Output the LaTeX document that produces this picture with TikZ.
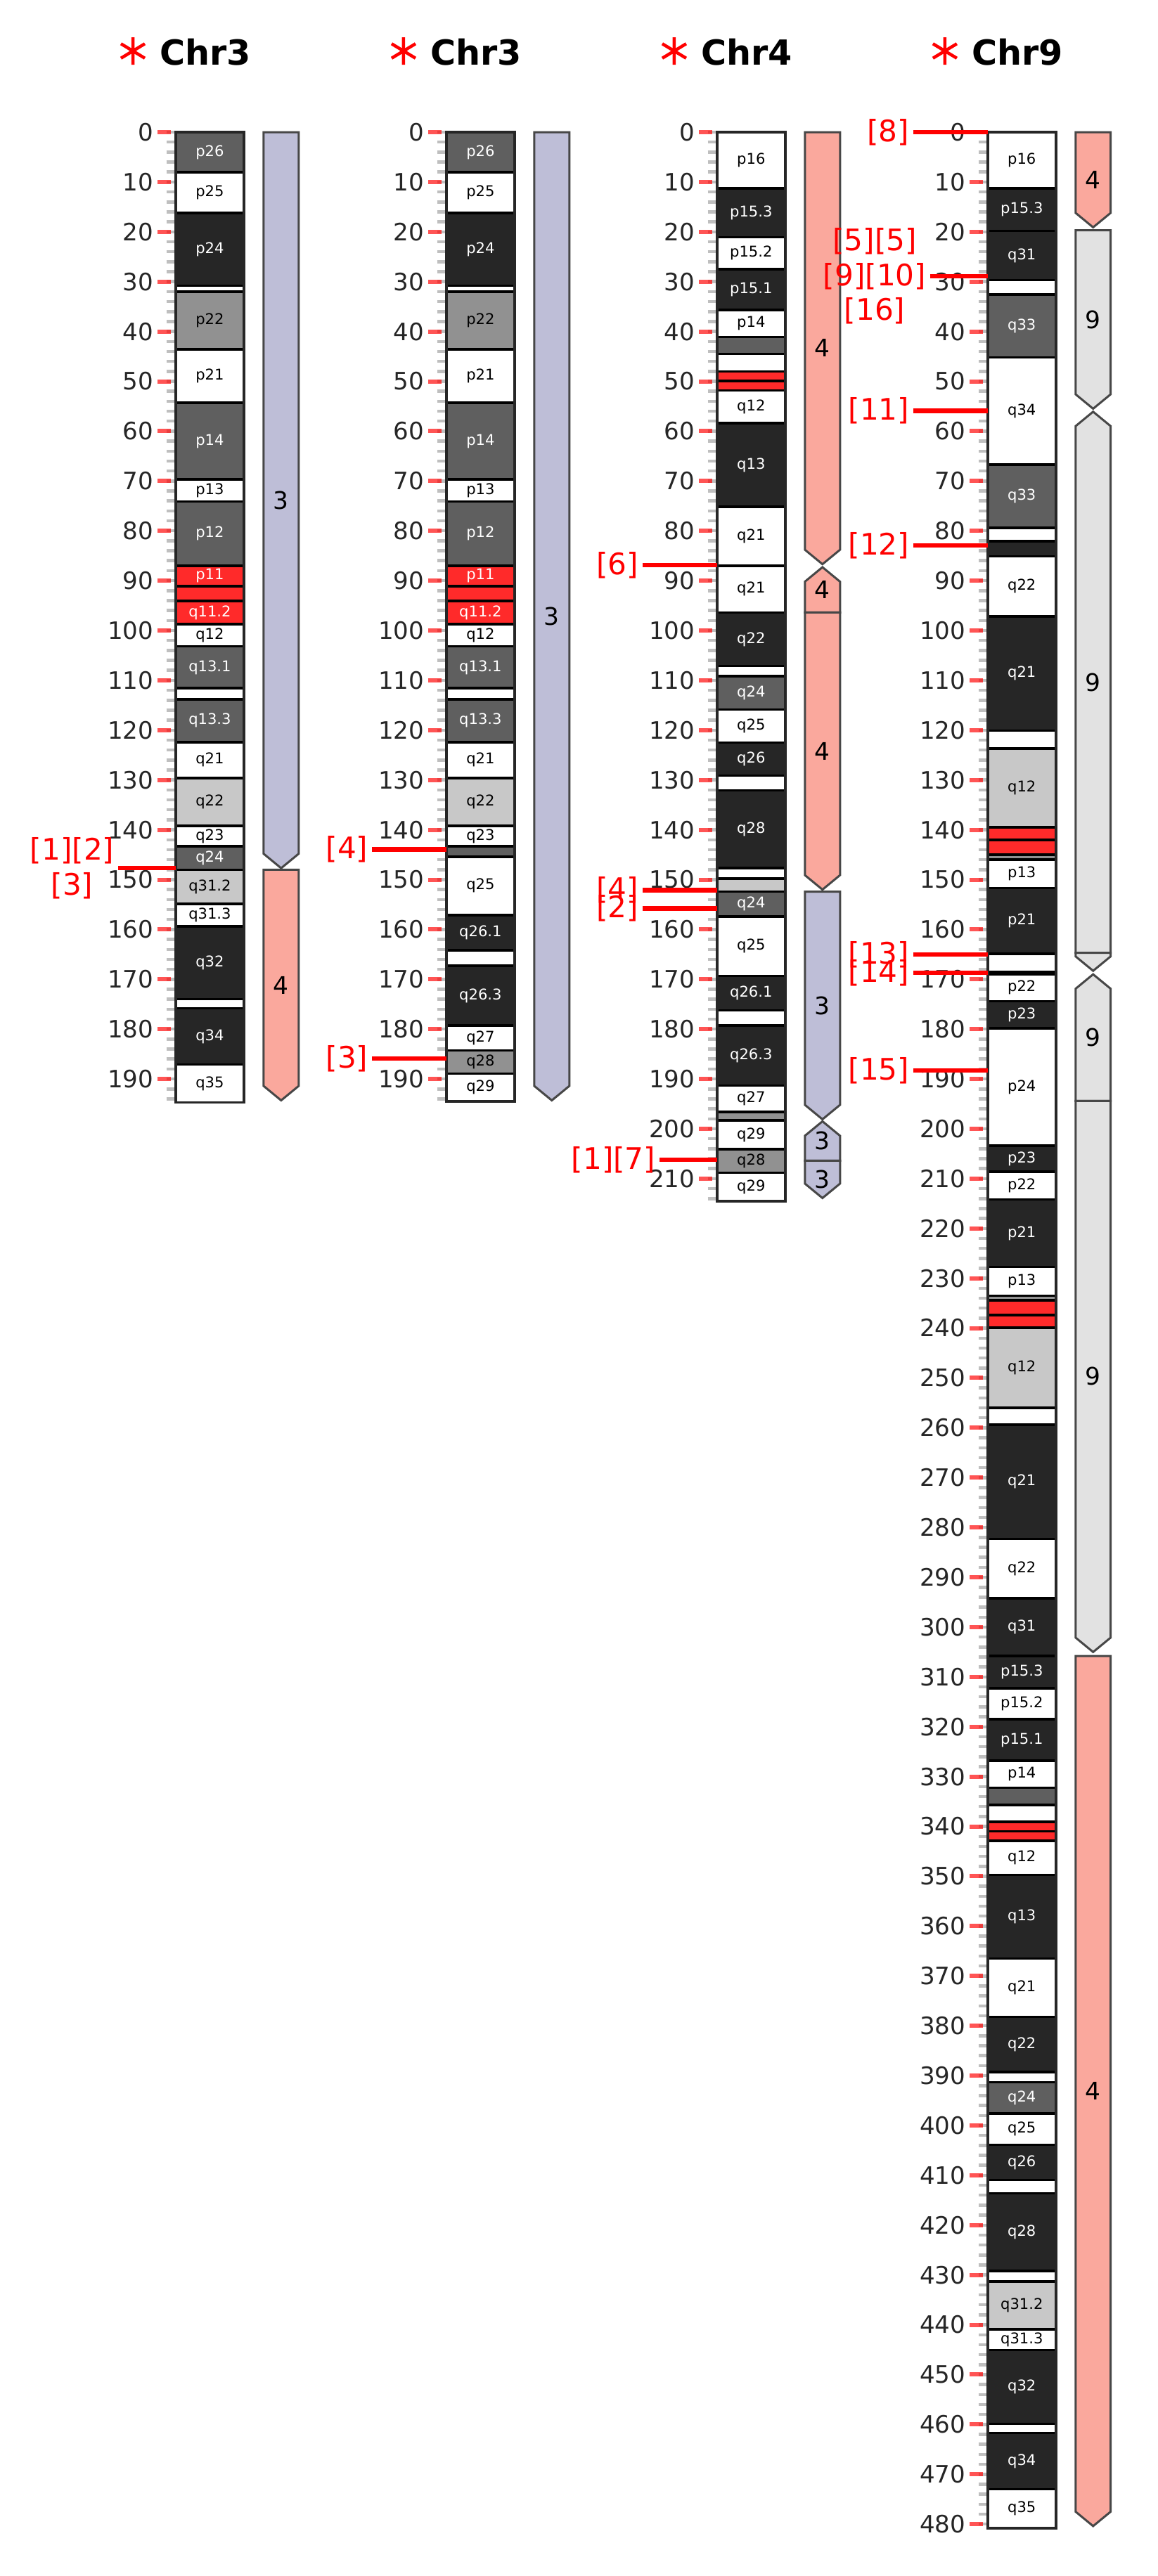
\documentclass[tikz,border=0pt]{standalone}
\usepackage{fontspec}
\setmainfont{DejaVu Sans}
\usepackage{xcolor}
\usepackage{tikz}
\definecolor{cw}{RGB}{255,255,255}
\definecolor{cl}{RGB}{200,200,200}
\definecolor{cm}{RGB}{145,145,145}
\definecolor{cg}{RGB}{95,95,95}
\definecolor{cb}{RGB}{38,38,38}
\definecolor{cr}{RGB}{255,42,42}
\colorlet{tw}{black}
\colorlet{tl}{black}
\colorlet{tm}{black}
\colorlet{tg}{white}
\colorlet{tb}{white}
\colorlet{tr}{white}
\definecolor{segthree}{RGB}{190,190,215}
\definecolor{segfour}{RGB}{250,168,157}
\definecolor{segnine}{RGB}{226,226,226}
\definecolor{axisgrey}{RGB}{38,38,38}
\newcommand\tipd{2.9}
% flat top, pointed bottom
\newcommand\segdown[5]{%
  \draw[segbar,fill=#4] (125,#2) -- (175,#2) -- (175,#3-\tipd) -- (150,#3) -- (125,#3-\tipd) -- cycle;
  \node[seglab] (#1) at (150,{(#2+#3)/2}) {#5};}
% pointed top, flat bottom
\newcommand\segup[5]{%
  \draw[segbar,fill=#4] (150,#2) -- (175,#2+\tipd) -- (175,#3) -- (125,#3) -- (125,#2+\tipd) -- cycle;
  \node[seglab] (#1) at (150,{(#2+#3)/2}) {#5};}

\begin{document}
\begin{tikzpicture}[x=0.01cm,y=-0.0709cm,
  band/.style={draw=black,line width=0.035cm,fill=c#1},
  bandlab/.style={text=t#1,font=\fontsize{6}{7}\selectfont,inner sep=0pt},
  chrbox/.style={draw=cb,line width=0.035cm},
  minortick/.style={draw=black!25,line width=0.045cm},
  majortick/.style={draw=red,draw opacity=0.67,line width=0.06cm},
  ticklab/.style={anchor=east,text=axisgrey,font=\fontsize{9.7}{11}\selectfont,inner sep=0pt},
  segbar/.style={draw=black!72,line width=0.03cm},
  seglab/.style={font=\fontsize{9.8}{11}\selectfont,inner sep=0pt},
  marklab/.style={anchor=east,text=red,align=center,font=\fontsize{12}{14}\selectfont,inner xsep=0.05cm,inner ysep=0pt},
  markline/.style={draw=red,line width=0.065cm},
  titlelab/.style={anchor=base west,font=\fontsize{14}{16}\selectfont\bfseries,inner sep=0pt},
  starmark/.style={draw=red,line width=0.045cm}]
\useasboundingbox (0,-26.52) rectangle (1648,490.42);

% Chr3
\begin{scope}[xshift=2.5cm]
\node[titlelab] (h1) at (-23.5,-13.54) {Chr3};
\draw[starmark] (-61,-16.29) +(0,-2.75) -- +(0,2.75) +(-17,-1.45) -- +(17,1.45) +(-17,1.45) -- +(17,-1.45);
\foreach \v in {0,2,...,194} \draw[minortick] (-13.3,\v) -- (-1,\v);
\foreach \v in {0,10,...,190} {\draw[majortick] (-26,\v) -- (-6.7,\v); \node[ticklab] (a1-\v) at (-31,\v) {\v};}
\foreach \bs/\be/\ty/\lb [count=\i] in {0/8.05/g/p26, 8.05/16.2/w/p25, 16.2/30.8/b/p24, 30.8/32/w/{},
  32/43.6/m/p22, 43.6/54.3/w/p21, 54.3/69.7/g/p14, 69.7/74.1/w/p13, 74.1/87/g/p12, 87/91.1/r/p11,
  91.1/94.1/r/{}, 94.1/98.7/r/q11.2, 98.7/103.2/w/q12, 103.2/111.6/g/q13.1, 111.6/113.8/w/{},
  113.8/122.4/g/q13.3, 122.4/129.6/w/q21, 129.6/139.2/l/q22, 139.2/143.3/w/q23, 143.3/148/g/q24,
  148/154.9/l/q31.2, 154.9/159.4/w/q31.3, 159.4/174/b/q32, 174/175.8/w/{}, 175.8/187.1/b/q34,
  187.1/194.7/w/q35}
  {\draw[band=\ty] (0,\bs) rectangle (97,\be); \node[bandlab=\ty] (a1-b\i) at (48.5,{(\bs+\be)/2}) {\lb};}
\draw[chrbox] (0,0) rectangle (97,194.7);
\segdown{s1a}{0}{147.7}{segthree}{3}
\segdown{s1b}{148}{194.3}{segfour}{4}
\node[marklab] (m1) at (-82,147.7) {[1][2]\\{}[3]};
\coordinate (m1e) at (0,147.7);
\draw[markline] (m1.east) -- (m1e);
\end{scope}

% Chr3, second
\begin{scope}[xshift=6.35cm]
\node[titlelab] (h2) at (-23.5,-13.54) {Chr3};
\draw[starmark] (-61,-16.29) +(0,-2.75) -- +(0,2.75) +(-17,-1.45) -- +(17,1.45) +(-17,1.45) -- +(17,-1.45);
\foreach \v in {0,2,...,194} \draw[minortick] (-13.3,\v) -- (-1,\v);
\foreach \v in {0,10,...,190} {\draw[majortick] (-26,\v) -- (-6.7,\v); \node[ticklab] (a2-\v) at (-31,\v) {\v};}
\foreach \bs/\be/\ty/\lb [count=\i] in {0/8.05/g/p26, 8.05/16.2/w/p25, 16.2/30.8/b/p24, 30.8/32/w/{},
  32/43.6/m/p22, 43.6/54.3/w/p21, 54.3/69.7/g/p14, 69.7/74.1/w/p13, 74.1/87/g/p12, 87/91.1/r/p11,
  91.1/94.1/r/{}, 94.1/98.7/r/q11.2, 98.7/103.2/w/q12, 103.2/111.6/g/q13.1, 111.6/113.8/w/{},
  113.8/122.4/g/q13.3, 122.4/129.6/w/q21, 129.6/139.2/l/q22, 139.2/143.3/w/q23, 143.3/145.4/g/{},
  145.4/157.1/w/q25, 157.1/164.2/b/q26.1, 164.2/167.3/w/{}, 167.3/179.3/b/q26.3, 179.3/184.3/w/q27,
  184.3/188.9/m/q28, 188.9/194.5/w/q29}
  {\draw[band=\ty] (0,\bs) rectangle (97,\be); \node[bandlab=\ty] (a2-b\i) at (48.5,{(\bs+\be)/2}) {\lb};}
\draw[chrbox] (0,0) rectangle (97,194.5);
\segdown{s2a}{0}{194.3}{segthree}{3}
\node[marklab] (m2) at (-106,143.9) {[4]};
\coordinate (m2e) at (0,143.9);
\draw[markline] (m2.east) -- (m2e);
\node[marklab] (m3) at (-106,185.9) {[3]};
\coordinate (m3e) at (0,185.9);
\draw[markline] (m3.east) -- (m3e);
\end{scope}

% Chr4
\begin{scope}[xshift=10.2cm]
\node[titlelab] (h3) at (-23.5,-13.54) {Chr4};
\draw[starmark] (-61,-16.29) +(0,-2.75) -- +(0,2.75) +(-17,-1.45) -- +(17,1.45) +(-17,1.45) -- +(17,-1.45);
\foreach \v in {0,2,...,214} \draw[minortick] (-13.3,\v) -- (-1,\v);
\foreach \v in {0,10,...,210} {\draw[majortick] (-26,\v) -- (-6.7,\v); \node[ticklab] (a3-\v) at (-31,\v) {\v};}
\foreach \bs/\be/\ty/\lb [count=\i] in {0/11.3/w/p16, 11.3/21.1/b/p15.3, 21.1/27.5/w/p15.2, 27.5/35.7/b/p15.1,
  35.7/41.1/w/p14, 41.1/44.5/g/{}, 44.5/48/w/{}, 48/49.9/r/{}, 49.9/51.8/r/{}, 51.8/58.4/w/q12,
  58.4/75.2/b/q13, 75.2/87/w/q21, 87/96.4/w/q21, 96.4/107.1/b/q22, 107.1/109.2/w/{}, 109.2/115.9/g/q24,
  115.9/122.5/w/q25, 122.5/129.1/b/q26, 129.1/132.1/w/{}, 132.1/147.7/b/q28, 147.7/149.8/w/{},
  149.8/152.4/l/{}, 152.4/157.4/g/q24, 157.4/169.3/w/q25, 169.3/176.2/b/q26.1, 176.2/179.3/w/{},
  179.3/191.3/b/q26.3, 191.3/196.6/w/q27, 196.6/198.3/m/{}, 198.3/204.1/w/q29, 204.1/208.8/m/q28,
  208.8/214.5/w/q29}
  {\draw[band=\ty] (0,\bs) rectangle (97,\be); \node[bandlab=\ty] (a3-b\i) at (48.5,{(\bs+\be)/2}) {\lb};}
\draw[chrbox] (0,0) rectangle (97,214.5);
\segdown{s3a}{0}{86.7}{segfour}{4}
\segup{s3b}{87.3}{96.4}{segfour}{4}
\segdown{s3c}{96.4}{152}{segfour}{4}
\segdown{s3d}{152.4}{198.1}{segthree}{3}
\segup{s3e}{198.5}{206.4}{segthree}{3}
\segdown{s3f}{206.4}{213.9}{segthree}{3}
\node[marklab] (m4) at (-106,86.9) {[6]};
\coordinate (m4e) at (0,86.9);
\draw[markline] (m4.east) -- (m4e);
\node[marklab] (m5) at (-106,152.1) {[4]};
\coordinate (m5e) at (0,152.1);
\draw[markline] (m5.east) -- (m5e);
\node[marklab] (m6) at (-106,155.8) {[2]};
\coordinate (m6e) at (0,155.8);
\draw[markline] (m6.east) -- (m6e);
\node[marklab] (m7) at (-82,206.2) {[1][7]};
\coordinate (m7e) at (0,206.2);
\draw[markline] (m7.east) -- (m7e);
\end{scope}

% Chr9
\begin{scope}[xshift=14.05cm]
\node[titlelab] (h4) at (-23.5,-13.54) {Chr9};
\draw[starmark] (-61,-16.29) +(0,-2.75) -- +(0,2.75) +(-17,-1.45) -- +(17,1.45) +(-17,1.45) -- +(17,-1.45);
\foreach \v in {0,2,...,480} \draw[minortick] (-13.3,\v) -- (-1,\v);
\foreach \v in {0,10,...,480} {\draw[majortick] (-26,\v) -- (-6.7,\v); \node[ticklab] (a4-\v) at (-31,\v) {\v};}
\foreach \bs/\be/\ty/\lb [count=\i] in {0/11.3/w/p16, 11.3/19.8/b/p15.3, 19.8/29.7/b/q31, 29.7/32.6/w/{},
  32.6/45.2/g/q33, 45.2/66.7/w/q34, 66.7/79.4/g/q33, 79.4/82.1/w/{}, 82.1/85.1/b/{}, 85.1/97.2/w/q22,
  97.2/120.1/b/q21, 120.1/123.7/w/{}, 123.7/139.5/l/q12, 139.5/142/r/{}, 142/145/r/{}, 145/146/m/{},
  146/151.7/w/p13, 151.7/164.9/b/p21, 164.9/168.5/w/{}, 168.5/169/b/{}, 169/174.4/w/p22,
  174.4/179.8/b/p23, 179.8/203.4/w/p24, 203.4/208.6/b/p23, 208.6/214.2/w/p22, 214.2/227.7/b/p21,
  227.7/233.5/w/p13, 233.5/234.4/m/{}, 234.4/237.4/r/{}, 237.4/239.9/r/{}, 239.9/256/l/q12,
  256/259.4/w/{}, 259.4/282.3/b/q21, 282.3/294.2/w/q22, 294.2/305.8/b/q31, 305.8/312.3/b/p15.3,
  312.3/318.5/w/p15.2, 318.5/326.8/b/p15.1, 326.8/332.2/w/p14, 332.2/335.7/g/{}, 335.7/339.1/w/{},
  339.1/341/r/{}, 341/342.9/r/{}, 342.9/349.7/w/q12, 349.7/366.5/b/q13, 366.5/378.2/w/q21,
  378.2/389.3/b/q22, 389.3/391.3/w/{}, 391.3/397.6/g/q24, 397.6/403.9/w/q25, 403.9/410.9/b/q26,
  410.9/413.6/w/{}, 413.6/429.2/b/q28, 429.2/431.3/w/{}, 431.3/440.9/l/q31.2, 440.9/445.1/w/q31.3,
  445.1/459.9/b/q32, 459.9/461.7/w/{}, 461.7/473/b/q34, 473/480.8/w/q35}
  {\draw[band=\ty] (0,\bs) rectangle (97,\be); \node[bandlab=\ty] (a4-b\i) at (48.5,{(\bs+\be)/2}) {\lb};}
\draw[chrbox] (0,0) rectangle (97,480.8);
\segdown{s4a}{0}{19.1}{segfour}{4}
\segdown{s4b}{19.7}{55.5}{segnine}{9}
\segup{s4c}{56.1}{164.7}{segnine}{9}
\segdown{s4d}{164.7}{168.3}{segnine}{}
\segup{s4e}{169}{194.4}{segnine}{9}
\segdown{s4f}{194.4}{305}{segnine}{9}
\segdown{s4g}{305.8}{480.4}{segfour}{4}
\node[marklab] (m8) at (-106,0) {[8]};
\coordinate (m8e) at (0,0);
\draw[markline] (m8.east) -- (m8e);
\node[marklab] (m9) at (-82,28.9) {[5][5]\\{}[9][10]\\{}[16]};
\coordinate (m9e) at (0,28.9);
\draw[markline] (m9.east) -- (m9e);
\node[marklab] (m10) at (-106,55.9) {[11]};
\coordinate (m10e) at (0,55.9);
\draw[markline] (m10.east) -- (m10e);
\node[marklab] (m11) at (-106,82.9) {[12]};
\coordinate (m11e) at (0,82.9);
\draw[markline] (m11.east) -- (m11e);
\node[marklab] (m12) at (-106,165) {[13]};
\coordinate (m12e) at (0,165);
\draw[markline] (m12.east) -- (m12e);
\node[marklab] (m13) at (-106,168.7) {[14]};
\coordinate (m13e) at (0,168.7);
\draw[markline] (m13.east) -- (m13e);
\node[marklab] (m14) at (-106,188.3) {[15]};
\coordinate (m14e) at (0,188.3);
\draw[markline] (m14.east) -- (m14e);
\end{scope}
\end{tikzpicture}
\end{document}
